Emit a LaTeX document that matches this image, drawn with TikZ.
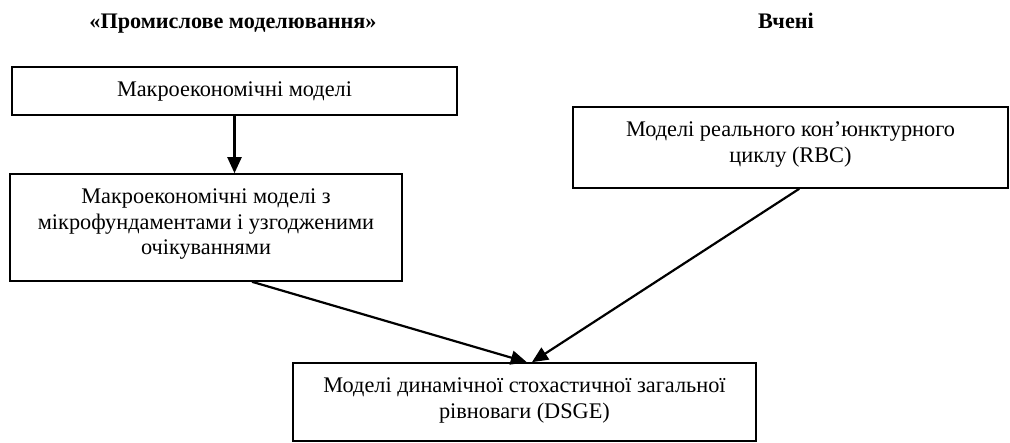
\documentclass[tikz,border=0pt]{standalone}
\usepackage{fontspec}
\setmainfont{Liberation Serif}
\usetikzlibrary{
  calc,
  positioning,
  arrows.meta
}

\newcommand{\modeltext}[3]{\parbox[c][#2][t]{#1}{\centering\rule{0pt}{30pt}#3}}

\begin{document}
\begin{tikzpicture}[x=1pt,y=-1pt,
    model/.style={draw,line width=1.6pt,inner sep=0pt,font=\fontsize{22.3}{25.5}\selectfont},
    header/.style={anchor=base,font=\bfseries\fontsize{22.2}{24}\selectfont},
    arr/.style={-{Triangle[length=16pt,width=14pt]},line width=2.2pt}]
    \useasboundingbox (0,0) rectangle (1010,443);

    \node[header] (industry) at (233,29) {«Промислове моделювання»};
    \node[header] (scholars) at (786,29) {Вчені};

    \node[model] (macro) at (234.5,91) {\modeltext{445pt}{48pt}{Макроекономічні моделі}};
    \node[model] (microfound) at (206,227.5) {\modeltext{392pt}{107pt}{Макроекономічні моделі з\\ мікрофундаментами і узгодженими\\ очікуваннями}};
    \node[model] (rbc) at (790.5,147.5) {\modeltext{435pt}{81pt}{Моделі реального кон’юнктурного\\ циклу (RBC)}};
    \node[model] (dsge) at (524.5,402) {\modeltext{463pt}{78pt}{Моделі динамічної стохастичної загальної\\ рівноваги (DSGE)}};

    \coordinate (meetL) at ($(dsge.north west)!0.505!(dsge.north east)$);
    \coordinate (meetR) at ($(dsge.north west)!0.516!(dsge.north east)$);

    \draw[arr] (macro.south) -- (macro.south |- microfound.north);
    \draw[arr] ($(microfound.south west)!0.617!(microfound.south east)$) -- (meetL);
    \draw[arr] ($(rbc.south west)!0.52!(rbc.south east)$) -- (meetR);
\end{tikzpicture}
\end{document}
